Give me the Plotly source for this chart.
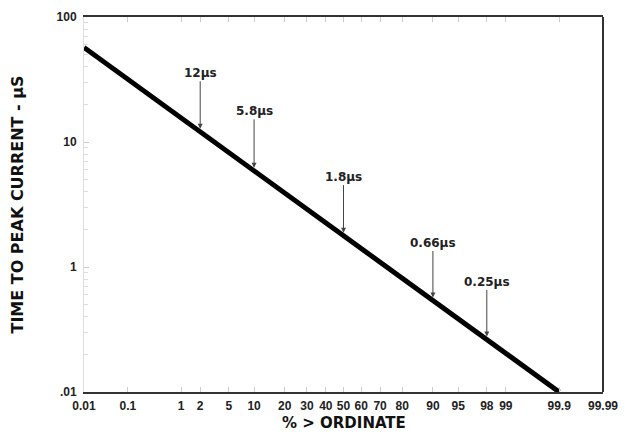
import numpy as np
import plotly.graph_objects as go
from statistics import NormalDist

# ---- data ----
line_pct = [0.01, 99.9]          # % > ordinate
line_time = [57.0, 0.1]          # time to peak current, microseconds

ann_pct = [2, 10, 50, 90, 98]
ann_text = ["12\u03bcs", "5.8\u03bcs", "1.8\u03bcs", "0.66\u03bcs", "0.25\u03bcs"]
ann_ay = [-59, -60, -59, -58, -58]

x_tick_pct = [0.01, 0.1, 1, 2, 5, 10, 20, 30, 40, 50, 60, 70, 80, 90, 95, 98, 99, 99.9, 99.99]
x_tick_text = ["0.01", "0.1", "1", "2", "5", "10", "20", "30", "40", "50", "60", "70",
               "80", "90", "95", "98", "99", "99.9", "99.99"]
y_tick_vals = [0.1, 1, 10, 100]
y_tick_text = [".01", "1", "10", "100"]

x_title = "% > ORDINATE"
y_title = "TIME TO PEAK CURRENT - \u03bcS"

# ---- normal probability scale ----
nd = NormalDist()
def probit(p):
    return [nd.inv_cdf(v / 100.0) for v in p]

lx = probit(line_pct)
FONT = "Liberation Sans, Arial, sans-serif"
WIDE = "DejaVu Sans, Verdana, sans-serif"

fig = go.Figure()
fig.add_trace(go.Scatter(x=lx, y=line_time, mode="lines",
                         line=dict(color="black", width=5), showlegend=False,
                         hoverinfo="skip"))

ax_z = probit(ann_pct)
tip_y = 10 ** np.interp(ax_z, lx, np.log10(line_time))
for z, yv, t, ay in zip(ax_z, tip_y, ann_text, ann_ay):
    fig.add_annotation(x=z, y=np.log10(yv), text="<b>" + t + "</b>",
                       showarrow=True, arrowhead=2, arrowsize=1, arrowwidth=1,
                       arrowcolor="#444", ax=0, ay=ay, standoff=3,
                       font=dict(family=WIDE, size=12, color="#222"))

fig.add_annotation(xref="paper", yref="paper", x=0.5, y=0, yshift=-31,
                   xanchor="center", yanchor="middle",
                   showarrow=False, text="<b>" + x_title + "</b>",
                   font=dict(family=WIDE, size=15, color="#111"))
fig.add_annotation(xref="paper", yref="paper", x=0, xshift=-67, y=0.5,
                   xanchor="center", yanchor="middle", textangle=-90,
                   showarrow=False, text="<b>" + y_title + "</b>",
                   font=dict(family=WIDE, size=16, color="#111"))

zmax = nd.inv_cdf(0.9999)
fig.update_xaxes(range=[-zmax, zmax], tickvals=probit(x_tick_pct), ticktext=x_tick_text,
                 showgrid=False, zeroline=False, showline=True, linecolor="#333",
                 linewidth=2, mirror="ticks", ticks="inside", ticklen=5, tickcolor="#ccc",
                 automargin=False, ticklabelstandoff=2,
                 tickfont=dict(family=FONT, size=12, color="#222", weight="bold"))
fig.update_yaxes(type="log", range=[-1, 2], tickvals=y_tick_vals, ticktext=y_tick_text,
                 showgrid=False, zeroline=False, showline=True, linecolor="#ddd",
                 linewidth=1, ticks="inside", ticklen=5, tickcolor="#ccc",
                 automargin=False, ticklabelstandoff=4,
                 minor=dict(ticks="inside", ticklen=4, tickcolor="#ddd", dtick="D1"),
                 tickfont=dict(family=FONT, size=12, color="#222", weight="bold"))
fig.add_shape(type="line", xref="paper", yref="paper", x0=1, x1=1, y0=0, y1=1,
              line=dict(color="#333", width=2))

fig.update_layout(width=622, height=426, margin=dict(l=76, r=27, t=9, b=42),
                  plot_bgcolor="white", paper_bgcolor="white")
fig.write_html("out.html")
